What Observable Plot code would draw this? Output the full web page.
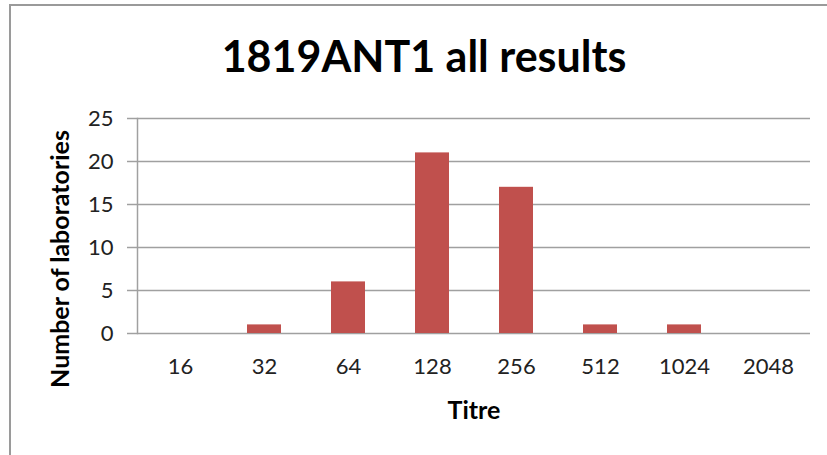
<!DOCTYPE html>
<html>
<head>
<meta charset="utf-8">
<script src="https://cdn.jsdelivr.net/npm/d3@7"></script>
<script src="https://cdn.jsdelivr.net/npm/@observablehq/plot@0.6"></script>
<style>
  html, body { margin: 0; padding: 0; background: #fff; }
  #wrap { position: relative; width: 827px; height: 455px; overflow: hidden; }
  #border { position: absolute; left: 9px; top: 4px; right: -10px; bottom: -10px;
            border-left: 2px solid #9a9a9a; border-top: 2px solid #9a9a9a; }
  #chart { position: absolute; left: 0; top: 0; }
</style>
</head>
<body>
<div id="wrap"><div id="border"></div><div id="chart"></div></div>
<script>
const titres = ["16", "32", "64", "128", "256", "512", "1024", "2048"];
const counts = [0, 1, 6, 21, 17, 1, 1, 0];
const yTicks = [0, 5, 10, 15, 20, 25];
const chartTitle = "1819ANT1 all results";
const xLabel = "Titre";
const yLabel = "Number of laboratories";

const data = titres.map((t, i) => ({titre: t, count: counts[i]}));
const font = "Lato, 'Open Sans', sans-serif";

const plot = Plot.plot({
  width: 827,
  height: 455,
  marginTop: 118,
  marginBottom: 122,
  marginLeft: 137,
  marginRight: 17,
  style: {fontFamily: font, fontSize: "22px", color: "#222", background: "transparent"},
  x: {domain: titres, paddingInner: 0.6, paddingOuter: 0.3},
  y: {domain: [0, 25]},
  marks: [
    Plot.gridY(yTicks, {stroke: "#a0a0a0", strokeOpacity: 1, strokeWidth: 1.5}),
    Plot.axisY(yTicks, {tickSize: 10, tickPadding: 14, stroke: "#a0a0a0", strokeWidth: 1.5, label: null, fontSize: 22, fill: "#222"}),
    Plot.axisX({tickSize: 0, tickPadding: 25, label: null, fontSize: 22, fill: "#222"}),
    Plot.frame({anchor: "left", stroke: "#a0a0a0", strokeWidth: 1.5}),
    Plot.barY(data, {x: "titre", y: "count", fill: "#C0504D"}),
    Plot.text([chartTitle], {text: d => d, frameAnchor: "top", lineAnchor: "middle", textAnchor: "middle", dx: -50, dy: -60, fontSize: 43, fontWeight: "bold", fill: "#000"}),
    Plot.text([xLabel], {text: d => d, frameAnchor: "bottom", lineAnchor: "middle", textAnchor: "middle", dx: 0, dy: 77, fontSize: 25, fontWeight: "bold", fill: "#000"}),
    Plot.text([yLabel], {text: d => d, frameAnchor: "left", lineAnchor: "middle", textAnchor: "middle", rotate: -90, dx: -77, dy: 33, fontSize: 25, fontWeight: "bold", fill: "#000"})
  ]
});
document.getElementById("chart").appendChild(plot);
</script>
</body>
</html>
